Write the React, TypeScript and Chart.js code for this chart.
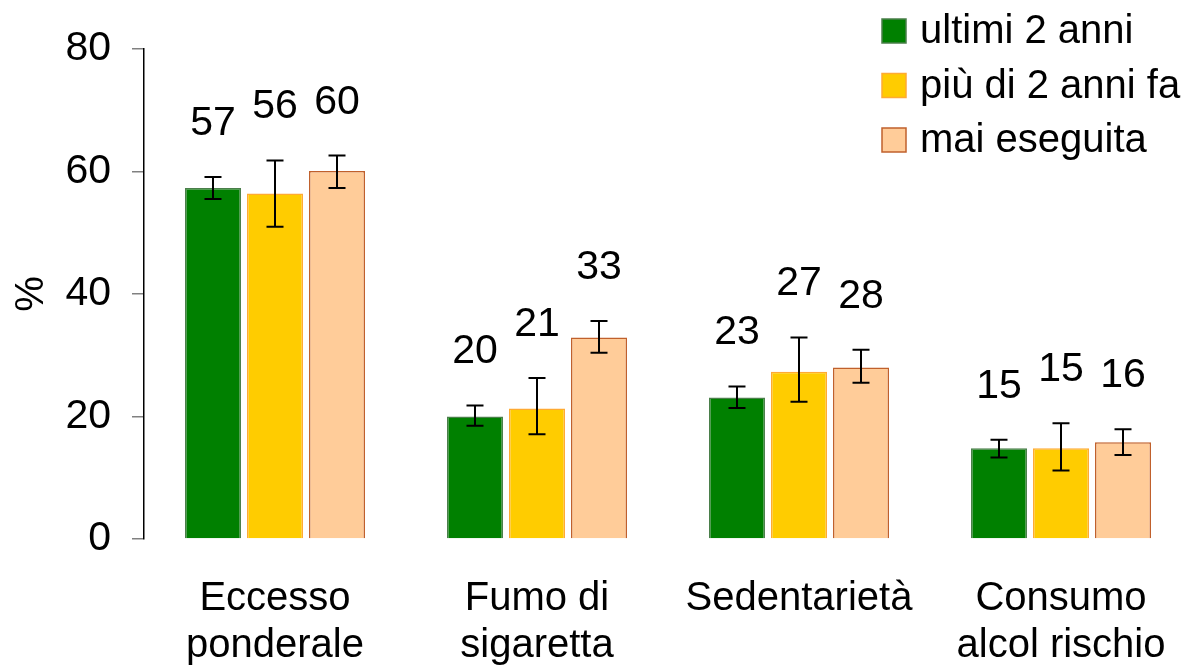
import { useEffect, useRef } from 'react';
import { Chart, registerables } from 'chart.js';

Chart.register(...registerables);

const FONT = "'Liberation Sans', Arial, sans-serif";

const categories = [
  ['Eccesso', 'ponderale'],
  ['Fumo di', 'sigaretta'],
  ['Sedentarietà'],
  ['Consumo', 'alcol rischio'],
];
const seriesNames = ['ultimi 2 anni', 'più di 2 anni fa', 'mai eseguita'];

const ultimi2 = [57.3, 20.0, 23.1, 14.8];
const ultimi2Low = [55.5, 18.5, 21.4, 13.3];
const ultimi2High = [59.1, 21.8, 24.9, 16.2];

const piu2 = [56.4, 21.3, 27.3, 14.8];
const piu2Low = [51.0, 17.1, 22.4, 11.2];
const piu2High = [61.8, 26.3, 32.9, 18.9];

const mai = [60.1, 32.9, 28.0, 15.8];
const maiLow = [57.3, 30.4, 25.5, 13.7];
const maiHigh = [62.6, 35.6, 30.9, 17.9];

const yTicks = [0, 20, 40, 60, 80];

const fillColors = ['#008000', '#FFCC00', '#FFCC99'];
const borderColors = ['#4A7F4A', '#FFAA33', '#C0602C'];

const lows = [ultimi2Low, piu2Low, maiLow];
const highs = [ultimi2High, piu2High, maiHigh];

const errorBarPlugin = {
  id: 'errorBars',
  afterDatasetsDraw(chart: any) {
    const ctx = chart.ctx;
    const y = chart.scales.y;
    ctx.save();
    chart.data.datasets.forEach((ds: any, i: number) => {
      const meta = chart.getDatasetMeta(i);
      meta.data.forEach((bar: any, j: number) => {
        const x = bar.x;
        const yh = y.getPixelForValue(highs[i][j]);
        const yl = y.getPixelForValue(lows[i][j]);
        ctx.strokeStyle = '#000';
        ctx.lineWidth = 2;
        ctx.beginPath();
        ctx.moveTo(x, yh);
        ctx.lineTo(x, yl);
        ctx.moveTo(x - 8.5, yh);
        ctx.lineTo(x + 8.5, yh);
        ctx.moveTo(x - 8.5, yl);
        ctx.lineTo(x + 8.5, yl);
        ctx.stroke();
        ctx.fillStyle = '#000';
        ctx.font = `41px ${FONT}`;
        ctx.textAlign = 'center';
        ctx.textBaseline = 'alphabetic';
        ctx.fillText(String(Math.round(ds.data[j])), x, yh - 42);
      });
    });
    ctx.restore();
  },
};

const legendPlugin = {
  id: 'customLegend',
  afterDraw(chart: any) {
    const ctx = chart.ctx;
    ctx.save();
    const x0 = 882;
    const y0 = 19;
    const step = 54.5;
    seriesNames.forEach((name, i) => {
      const top = y0 + i * step;
      ctx.fillStyle = fillColors[i];
      ctx.fillRect(x0, top, 24, 24);
      ctx.strokeStyle = borderColors[i];
      ctx.lineWidth = 1.5;
      ctx.strokeRect(x0, top, 24, 24);
      ctx.fillStyle = '#000';
      ctx.font = `40px ${FONT}`;
      ctx.textAlign = 'left';
      ctx.textBaseline = 'middle';
      ctx.fillText(name, x0 + 38, top + 13);
    });
    ctx.restore();
  },
};

export default function App() {
  const ref = useRef<HTMLCanvasElement>(null);
  useEffect(() => {
    if (!ref.current) return;
    const chart = new Chart(ref.current, {
      type: 'bar',
      data: {
        labels: categories,
        datasets: [ultimi2, piu2, mai].map((d, i) => ({
          label: seriesNames[i],
          data: d,
          backgroundColor: fillColors[i],
          borderColor: borderColors[i],
          borderWidth: 1.5,
          categoryPercentage: 0.71,
          barPercentage: 0.903,
        })),
      },
      options: {
        responsive: false,
        animation: false,
        layout: { padding: { top: 49, right: 8, left: 0, bottom: 0 } },
        plugins: {
          legend: { display: false },
          tooltip: { enabled: false },
          title: { display: false },
        },
        scales: {
          x: {
            grid: { display: false },
            border: { display: false },
            ticks: {
              color: '#000',
              font: { family: FONT, size: 40, lineHeight: 1.16 },
              padding: 29,
              maxRotation: 0,
              autoSkip: false,
            },
            afterFit: (s: any) => {
              s.height = 131;
            },
          },
          y: {
            min: 0,
            max: 80,
            afterBuildTicks: (s: any) => {
              s.ticks = yTicks.map((v) => ({ value: v }));
            },
            grid: {
              drawOnChartArea: false,
              drawTicks: true,
              tickLength: 12,
              color: '#808080',
              lineWidth: 1.5,
            },
            border: { display: true, color: '#000', width: 1.5 },
            ticks: {
              color: '#000',
              font: { family: FONT, size: 41 },
              padding: 21,
            },
            title: {
              display: true,
              text: '%',
              color: '#000',
              font: { family: FONT, size: 40 },
              padding: { top: 8, bottom: 0 },
            },
            afterFit: (s: any) => {
              s.width = 144;
            },
          },
        },
      },
      plugins: [errorBarPlugin, legendPlugin],
    });
    return () => chart.destroy();
  }, []);
  return (
    <div
      style={{
        position: 'fixed',
        left: 0,
        top: 0,
        width: 1182,
        height: 670,
        overflow: 'hidden',
        background: '#fff',
      }}
    >
      <canvas ref={ref} width={1200} height={670} style={{ display: 'block', width: 1200, height: 670 }} />
    </div>
  );
}
